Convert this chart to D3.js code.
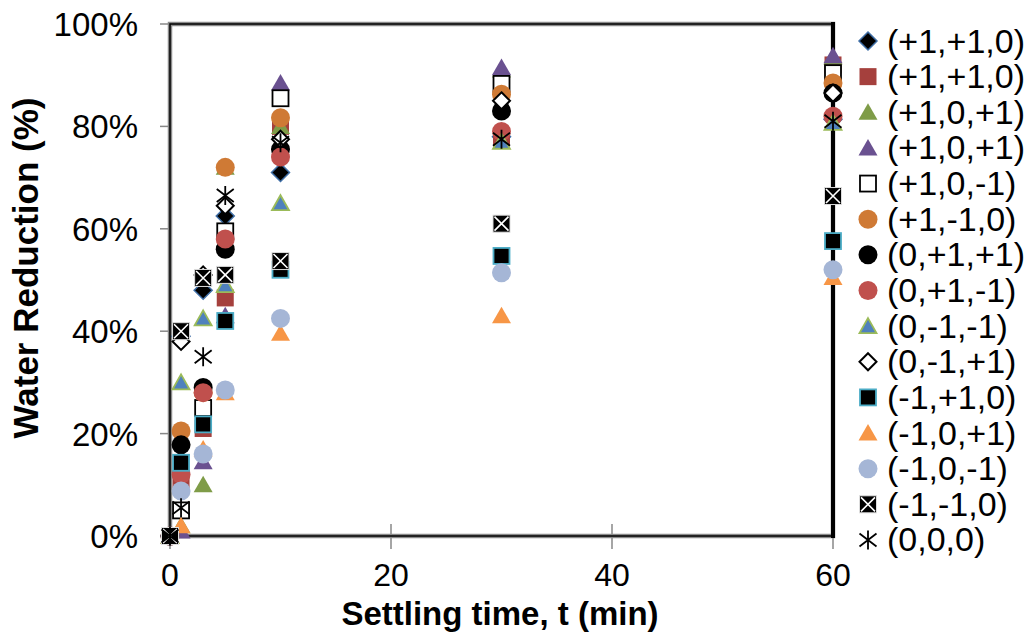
<!DOCTYPE html>
<html><head><meta charset="utf-8">
<script src="https://cdn.jsdelivr.net/npm/d3@7"></script>
<style>body{margin:0;background:#fff}svg{display:block}text{font-family:"Liberation Sans",Arial,sans-serif}</style>
</head><body>
<svg id="c" width="1030" height="635"></svg>
<script>
const times = [0, 1, 3, 5, 10, 30, 60];
const seriesNames = ["(+1,+1,0)","(+1,+1,0)","(+1,0,+1)","(+1,0,+1)","(+1,0,-1)","(+1,-1,0)","(0,+1,+1)","(0,+1,-1)","(0,-1,-1)","(0,-1,+1)","(-1,+1,0)","(-1,0,+1)","(-1,0,-1)","(-1,-1,0)","(0,0,0)"];
const s1  = [0, 39, 48, 62.5, 71, 78, 81.4];
const s2  = [0, 11, 21, 46.5, 80, 78, 92];
const s3  = [0, 2, 10, 72, 80, 91, 93.5];
const s4  = [0, 1, 14.5, 43, 88.5, 91.5, 93.8];
const s5  = [0, 5, 25, 59.5, 85.5, 88.3, 90.4];
const s6  = [0, 20.5, 28, 72, 81.7, 86.3, 88.5];
const s7  = [0, 17.8, 29, 56, 75.5, 83, 86.5];
const s8  = [0, 12, 28, 58, 74, 79, 82];
const s9  = [0, 30, 42.5, 49, 65, 77, 80.7];
const s10 = [0, 38, 51, 64.5, 77.5, 85, 86.5];
const s11 = [0, 14.3, 21.8, 42, 52, 54.7, 57.6];
const s12 = [0, 2, 17, 28, 39.6, 43, 50.5];
const s13 = [0, 8.8, 16, 28.5, 42.5, 51.4, 52];
const s14 = [0, 40, 50.4, 51, 53.7, 61, 66.4];
const s15 = [0, 5.5, 35, 66.5, 76.8, 77.5, 81];
const allSeries = [s1,s2,s3,s4,s5,s6,s7,s8,s9,s10,s11,s12,s13,s14,s15];
const markerTypes = ["diamondBlack","squareRed","triGreen","triPurple","squareWhite","circOrange","circBlack","circRed","triBlue","diamondWhite","squareBlack","triOrange","circLight","squareX","star"];
const yTicks = [0, 20, 40, 60, 80, 100];
const xTicks = [0, 20, 40, 60];

const svg = d3.select("#c");
const x = d3.scaleLinear().domain([0, 60]).range([170, 833]);
const y = d3.scaleLinear().domain([0, 100]).range([536, 24]);

function drawMarker(g, type) {
  switch (type) {
    case "diamondBlack": g.append("path").attr("d","M0,-9L9,0L0,9L-9,0Z").attr("fill","#000").attr("stroke","#3f6ea6").attr("stroke-width",1.5); break;
    case "diamondWhite": g.append("path").attr("d","M0,-8.5L8.5,0L0,8.5L-8.5,0Z").attr("fill","#fff").attr("stroke","#000").attr("stroke-width",2); break;
    case "squareRed": g.append("rect").attr("x",-8.5).attr("y",-8.5).attr("width",17).attr("height",17).attr("fill","#a5403d"); break;
    case "squareWhite": g.append("rect").attr("x",-8).attr("y",-8).attr("width",16).attr("height",16).attr("fill","#fff").attr("stroke","#000").attr("stroke-width",1.8); break;
    case "squareBlack": g.append("rect").attr("x",-8).attr("y",-8).attr("width",16).attr("height",16).attr("fill","#000").attr("stroke","#4bacc6").attr("stroke-width",1.8); break;
    case "squareX":
      g.append("rect").attr("x",-8.5).attr("y",-8.5).attr("width",17).attr("height",17).attr("fill","#000").attr("stroke","#ddd").attr("stroke-width",1);
      g.append("path").attr("d","M-7,-7L7,7M7,-7L-7,7").attr("stroke","#fff").attr("stroke-width",1.6); break;
    case "triGreen": g.append("path").attr("d","M0,-9L9.5,7.5L-9.5,7.5Z").attr("fill","#7f9c48"); break;
    case "triPurple": g.append("path").attr("d","M0,-9L9.5,7.5L-9.5,7.5Z").attr("fill","#6a5190"); break;
    case "triOrange": g.append("path").attr("d","M0,-9L9.5,7.5L-9.5,7.5Z").attr("fill","#f79646"); break;
    case "triBlue": g.append("path").attr("d","M0,-8L8.5,7L-8.5,7Z").attr("fill","#4f81bd").attr("stroke","#9bbb59").attr("stroke-width",1.8); break;
    case "circOrange": g.append("circle").attr("r",9.5).attr("fill","#cf7a35"); break;
    case "circBlack": g.append("circle").attr("r",9.5).attr("fill","#000"); break;
    case "circRed": g.append("circle").attr("r",9.5).attr("fill","#c0504d"); break;
    case "circLight": g.append("circle").attr("r",9.5).attr("fill","#a5b6d6"); break;
    case "star": g.append("path").attr("d","M0,-9.5L0,9.5M-8.5,-6.5L8.5,6.5M8.5,-6.5L-8.5,6.5").attr("stroke","#000").attr("stroke-width",1.8).attr("fill","none"); break;
  }
}

// y ticks (outward)
svg.append("g").selectAll("line").data(yTicks).join("line")
  .attr("x1", 160).attr("x2", 170).attr("y1", d => y(d)).attr("y2", d => y(d))
  .attr("stroke", "#888").attr("stroke-width", 1.5);
// x ticks (cross)
svg.append("g").selectAll("line").data(xTicks).join("line")
  .attr("x1", d => x(d)).attr("x2", d => x(d)).attr("y1", y(0) - 12).attr("y2", y(0) + 13)
  .attr("stroke", "#888").attr("stroke-width", 1.5);

// frame
svg.append("rect").attr("x", x(0)).attr("y", y(100)).attr("width", x(60) - x(0)).attr("height", y(0) - y(100))
  .attr("fill", "none").attr("stroke", "#8a8a8a").attr("stroke-width", 4.5);
svg.append("rect").attr("x", x(0)).attr("y", y(100)).attr("width", x(60) - x(0)).attr("height", y(0) - y(100))
  .attr("fill", "none").attr("stroke", "#000").attr("stroke-width", 1.5);
svg.append("line").attr("x1", x(60)).attr("x2", x(60)).attr("y1", y(100) - 2).attr("y2", y(0) + 2)
  .attr("stroke", "#000").attr("stroke-width", 4);

// tick labels
svg.append("g").selectAll("text").data(yTicks).join("text")
  .attr("x", 138).attr("y", d => y(d) + 12).attr("text-anchor", "end")
  .attr("font-size", 33).text(d => d + "%");
svg.append("g").selectAll("text").data(xTicks).join("text")
  .attr("x", d => x(d)).attr("y", 586).attr("text-anchor", "middle")
  .attr("font-size", 32).text(d => d);

// axis titles
svg.append("text").attr("x", 500).attr("y", 625).attr("text-anchor", "middle")
  .attr("font-size", 33).attr("font-weight", "bold").text("Settling time, t (min)");
svg.append("text").attr("transform", "translate(38,268) rotate(-90)").attr("text-anchor", "middle")
  .attr("font-size", 35).attr("font-weight", "bold").text("Water Reduction (%)");

// data points
allSeries.forEach((vals, i) => {
  const g = svg.append("g");
  vals.forEach((v, j) => {
    const m = g.append("g").attr("transform", `translate(${x(times[j])},${y(v)})`);
    drawMarker(m, markerTypes[i]);
  });
});

// legend
const leg = svg.append("g");
seriesNames.forEach((name, i) => {
  const cy = 41 + i * 35.64;
  const m = leg.append("g").attr("transform", `translate(868,${cy})`);
  drawMarker(m, markerTypes[i]);
  leg.append("text").attr("x", 887).attr("y", cy + 11.5).attr("font-size", 34).text(name);
});
</script>
</body></html>
